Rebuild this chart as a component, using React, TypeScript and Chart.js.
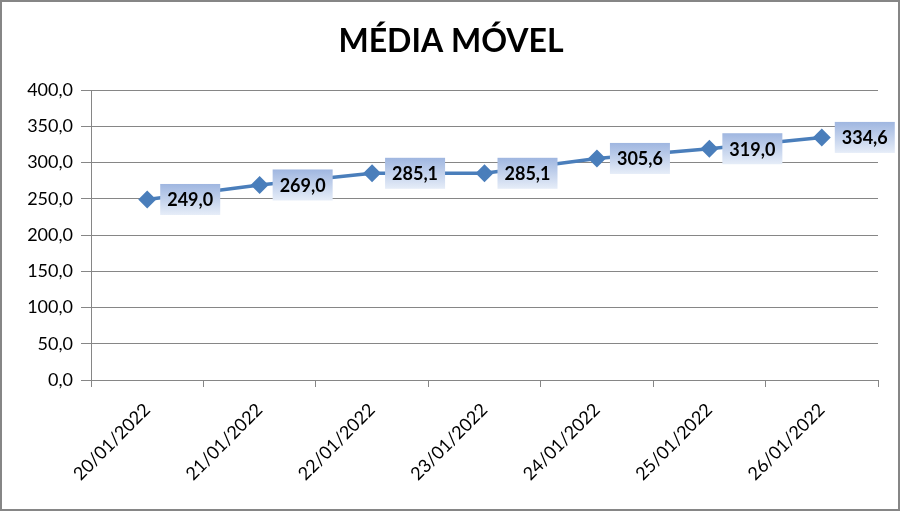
import React, { useEffect, useRef } from "react";
import { Chart, registerables } from "chart.js";

Chart.register(...registerables);

const TITLE = "MÉDIA MÓVEL";
const CATEGORIES = ["20/01/2022", "21/01/2022", "22/01/2022", "23/01/2022", "24/01/2022", "25/01/2022", "26/01/2022"];
const VALUES = [249.0, 269.0, 285.1, 285.1, 305.6, 319.0, 334.6];
const Y_MIN = 0;
const Y_MAX = 400;
const Y_STEP = 50;

const FONT = "Lato, 'Open Sans', 'DejaVu Sans', sans-serif";
const fmt = (v: number) => v.toFixed(1).replace(".", ",");

const labelPlugin = {
  id: "valueLabels",
  afterDatasetsDraw(chart: any) {
    const ctx = chart.ctx;
    const meta = chart.getDatasetMeta(0);
    ctx.save();
    ctx.font = `bold 18px ${FONT}`;
    ctx.textAlign = "center";
    ctx.textBaseline = "middle";
    meta.data.forEach((pt: any, i: number) => {
      const cx = pt.x + 43;
      const cy = pt.y;
      const w = 60;
      const h = 31;
      const g = ctx.createLinearGradient(0, cy - h / 2, 0, cy + h / 2);
      g.addColorStop(0, "#9fb6e0");
      g.addColorStop(1, "#e6edf8");
      ctx.fillStyle = g;
      ctx.fillRect(cx - w / 2, cy - h / 2, w, h);
      ctx.fillStyle = "#000000";
      ctx.fillText(fmt(VALUES[i]), cx, cy + 1);
    });
    ctx.restore();
  },
};

const framePlugin = {
  id: "frame",
  beforeDraw(chart: any) {
    const ctx = chart.ctx;
    ctx.save();
    ctx.fillStyle = "#ffffff";
    ctx.fillRect(0, 0, chart.width, chart.height);
    ctx.restore();
  },
  afterDraw(chart: any) {
    const ctx = chart.ctx;
    ctx.save();
    ctx.fillStyle = "#000000";
    ctx.font = `bold 32px ${FONT}`;
    ctx.textAlign = "center";
    ctx.textBaseline = "alphabetic";
    ctx.fillText(TITLE, 451, 52);
    ctx.strokeStyle = "#868686";
    ctx.lineWidth = 2;
    ctx.strokeRect(1, 1, 898, 509);
    ctx.restore();
  },
};

export default function App() {
  const ref = useRef<HTMLCanvasElement>(null);
  useEffect(() => {
    if (!ref.current) return;
    const chart = new Chart(ref.current, {
      type: "line",
      data: {
        labels: CATEGORIES,
        datasets: [
          {
            data: VALUES,
            borderColor: "#4a7ebb",
            backgroundColor: "#4a7ebb",
            borderWidth: 3.5,
            pointStyle: "rectRot",
            pointRadius: 6.5,
            pointBackgroundColor: "#4a7ebb",
            pointBorderColor: "#4a7ebb",
            tension: 0,
          },
        ],
      },
      options: {
        animation: false,
        responsive: false,
        layout: { padding: { left: 0, right: 24, top: 90, bottom: 0 } },
        plugins: {
          legend: { display: false },
          tooltip: { enabled: false },
          title: { display: false },
        },
        scales: {
          x: {
            offset: true,
            grid: { display: true, offset: true, drawOnChartArea: false, drawTicks: true, tickLength: 7, color: "#868686" },
            border: { display: true, color: "#868686", width: 1 },
            ticks: {
              minRotation: 45,
              maxRotation: 45,
              padding: 12,
              color: "#000000",
              font: { family: FONT, size: 18 },
            },
            afterFit(scale: any) {
              scale.height = 134;
            },
          },
          y: {
            min: Y_MIN,
            max: Y_MAX,
            grid: { color: "#868686", drawTicks: true, tickLength: 10 },
            border: { display: true, color: "#868686", width: 1 },
            ticks: {
              stepSize: Y_STEP,
              padding: 8,
              color: "#000000",
              font: { family: FONT, size: 18 },
              callback: (v: any) => fmt(Number(v)),
            },
            afterFit(scale: any) {
              scale.width = 91;
            },
          },
        },
      },
      plugins: [framePlugin, labelPlugin],
    });
    return () => chart.destroy();
  }, []);
  return (
    <div style={{ position: "absolute", left: 0, top: 0, width: 902, height: 514 }}>
      <canvas ref={ref} width={902} height={514} style={{ display: "block" }} />
    </div>
  );
}
